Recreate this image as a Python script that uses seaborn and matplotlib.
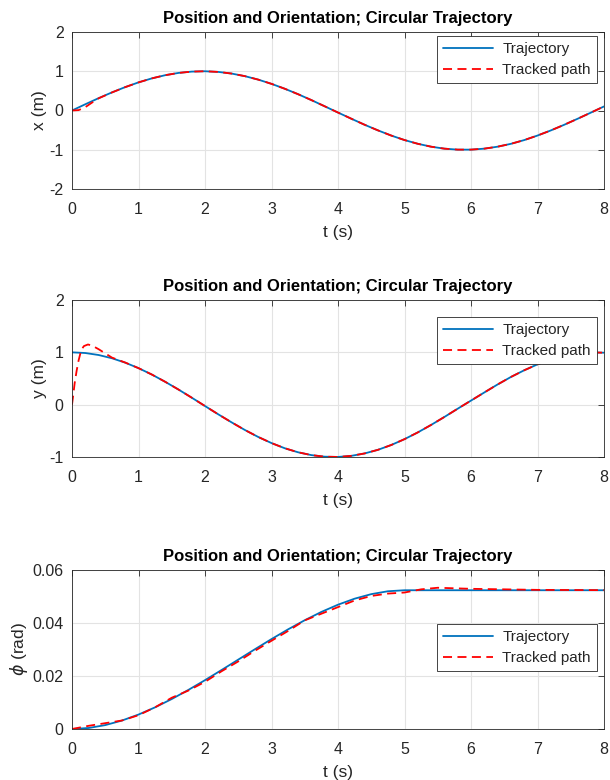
import matplotlib
matplotlib.use("Agg")
import matplotlib.pyplot as plt
import seaborn as sns
import pandas as pd
from matplotlib.ticker import FuncFormatter

# ---------------- data ----------------
t_ref = [0.0, 0.2, 0.4, 0.6, 0.8, 1.0, 1.2, 1.4, 1.6, 1.8, 2.0, 2.2, 2.4, 2.6, 2.8,
         3.0, 3.2, 3.4, 3.6, 3.8, 4.0, 4.2, 4.4, 4.6, 4.8, 5.0, 5.2, 5.4, 5.6, 5.8,
         6.0, 6.2, 6.4, 6.6, 6.8, 7.0, 7.2, 7.4, 7.6, 7.8, 8.0]
x_ref = [0.000, 0.159, 0.314, 0.461, 0.596, 0.716, 0.818, 0.899, 0.957, 0.991, 1.000,
         0.983, 0.941, 0.875, 0.787, 0.679, 0.554, 0.415, 0.265, 0.107, -0.052,
         -0.209, -0.363, -0.506, -0.638, -0.753, -0.848, -0.922, -0.972, -0.997,
         -0.997, -0.972, -0.922, -0.849, -0.754, -0.638, -0.508, -0.365, -0.213,
         -0.056, 0.103]
y_ref = [1.000, 0.987, 0.949, 0.887, 0.803, 0.698, 0.576, 0.438, 0.290, 0.134, -0.026,
         -0.185, -0.338, -0.484, -0.617, -0.734, -0.833, -0.910, -0.964, -0.994, -0.999,
         -0.978, -0.932, -0.863, -0.771, -0.659, -0.530, -0.387, -0.235, -0.077, 0.078,
         0.233, 0.386, 0.529, 0.657, 0.770, 0.862, 0.931, 0.978, 0.999, 0.993]

t_trk_x = [0.0, 0.1, 0.2, 0.3, 0.4, 0.6, 0.8, 1.0, 1.2, 1.4, 1.6, 1.8, 2.0, 2.2, 2.4, 2.6, 2.8,
           3.0, 3.2, 3.4, 3.6, 3.8, 4.0, 4.2, 4.4, 4.6, 4.8, 5.0, 5.2, 5.4, 5.6, 5.8,
           6.0, 6.2, 6.4, 6.6, 6.8, 7.0, 7.2, 7.4, 7.6, 7.8, 8.0]
x_trk = [0.000, 0.010, 0.085, 0.200, 0.310, 0.459, 0.595, 0.716, 0.818, 0.899, 0.957, 0.991,
         1.000, 0.983, 0.941, 0.875, 0.787, 0.679, 0.554, 0.415, 0.265, 0.107, -0.052,
         -0.209, -0.363, -0.506, -0.638, -0.753, -0.848, -0.922, -0.972, -0.997,
         -0.997, -0.972, -0.922, -0.849, -0.754, -0.638, -0.508, -0.365, -0.213,
         -0.056, 0.103]

t_trk_y = [0.0, 0.02, 0.04, 0.07, 0.10, 0.14, 0.18, 0.24, 0.30, 0.40, 0.50, 0.60, 0.8, 1.0,
           1.2, 1.4, 1.6, 1.8, 2.0, 2.2, 2.4, 2.6, 2.8, 3.0, 3.2, 3.4, 3.6, 3.8, 4.0, 4.2,
           4.4, 4.6, 4.8, 5.0, 5.2, 5.4, 5.6, 5.8, 6.0, 6.2, 6.4, 6.6, 6.8, 7.0, 7.2, 7.4,
           7.6, 7.8, 8.0]
y_trk = [0.000, 0.200, 0.410, 0.650, 0.850, 1.050, 1.120, 1.150, 1.130, 1.060, 0.980, 0.900,
         0.805, 0.698, 0.576, 0.438, 0.290, 0.134, -0.026, -0.185, -0.338, -0.484, -0.617,
         -0.734, -0.833, -0.910, -0.964, -0.994, -0.999, -0.978, -0.932, -0.863, -0.771,
         -0.659, -0.530, -0.387, -0.235, -0.077, 0.078, 0.233, 0.386, 0.529, 0.657, 0.770,
         0.862, 0.931, 0.978, 0.999, 0.993]

t_phi = [0.0, 0.25, 0.5, 0.75, 1.0, 1.25, 1.5, 1.75, 2.0, 2.25, 2.5, 2.75, 3.0, 3.25, 3.5,
         3.75, 4.0, 4.25, 4.5, 4.75, 5.0, 5.5, 6.0, 6.5, 7.0, 7.5, 8.0]
phi_ref = [0.0, 0.00038, 0.00147, 0.00318, 0.00545, 0.00818, 0.01131, 0.01475, 0.01843,
           0.02227, 0.02618, 0.03009, 0.03393, 0.03761, 0.04105, 0.04418, 0.04691, 0.04918,
           0.05089, 0.05198, 0.05236, 0.05236, 0.05236, 0.05236, 0.05236, 0.05236, 0.05236]

t_phi_trk = [0.0, 0.25, 0.5, 0.75, 1.0, 1.25, 1.5, 1.75, 2.0, 2.25, 2.5, 2.75, 3.0, 3.25,
             3.5, 3.75, 4.0, 4.25, 4.5, 4.75, 5.0, 5.25, 5.5, 5.75, 6.0, 6.5, 7.0, 8.0]
phi_trk = [0.0, 0.0012, 0.0022, 0.0032, 0.0052, 0.0082, 0.0118, 0.0145, 0.0178, 0.0218,
           0.0255, 0.0295, 0.0333, 0.0370, 0.0410, 0.0435, 0.0460, 0.0485, 0.0502, 0.0511,
           0.0515, 0.0527, 0.0533, 0.0531, 0.0529, 0.0527, 0.0525, 0.0524]

title = "Position and Orientation; Circular Trajectory"
labels = ["Trajectory", "Tracked path"]

# ---------------- style ----------------
sns.set_theme(style="white")
plt.rcParams["font.family"] = ["Liberation Sans", "DejaVu Sans"]
plt.rcParams["axes.unicode_minus"] = False
plt.rcParams["mathtext.fontset"] = "dejavusans"

BLUE = "#0072BD"
RED = "#FF0000"
AX_COL = "#262626"

fig = plt.figure(figsize=(6.1, 7.8), dpi=100)
left, width = 72 / 610, 532 / 610
boxes = [(32, 189), (300, 457), (570, 729)]
axes = [fig.add_axes([left, 1 - b / 780, width, (b - t) / 780]) for t, b in boxes]

panels = [
    (t_ref, x_ref, t_trk_x, x_trk, "x (m)", (-2, 2), [-2, -1, 0, 1, 2], (0.987, 0.975)),
    (t_ref, y_ref, t_trk_y, y_trk, "y (m)", (-1, 2), [-1, 0, 1, 2], (0.987, 0.892)),
    (t_phi, phi_ref, t_phi_trk, phi_trk, r"$\phi$ (rad)", (0, 0.06), [0, 0.02, 0.04, 0.06], (0.987, 0.66)),
]

for ax, (tr, vr, tt, vt, ylab, ylim, yt, lpos) in zip(axes, panels):
    d1 = pd.DataFrame({"t": tr, "v": vr})
    d2 = pd.DataFrame({"t": tt, "v": vt})
    sns.lineplot(data=d1, x="t", y="v", ax=ax, color=BLUE, lw=1.3, label=labels[0])
    sns.lineplot(data=d2, x="t", y="v", ax=ax, color=RED, lw=1.3, label=labels[1])
    ax.lines[1].set_linestyle((0, (5, 3)))
    ax.set_xlim(0, 8)
    ax.set_ylim(*ylim)
    ax.set_xticks(range(0, 9))
    ax.set_yticks(yt)
    ax.yaxis.set_major_formatter(FuncFormatter(lambda v, p: "%g" % v))
    ax.grid(True, color="#e3e3e3", lw=0.8)
    ax.set_axisbelow(True)
    for s in ax.spines.values():
        s.set_visible(True)
        s.set_color(AX_COL)
        s.set_linewidth(0.6)
    ax.tick_params(direction="in", top=True, right=True, length=4, width=0.6,
                   colors=AX_COL, labelsize=11.5, labelcolor="#262626")
    ax.tick_params(axis="x", pad=9)
    ax.tick_params(axis="y", pad=6)
    ax.set_xlabel("t (s)", fontsize=12.5, color="#262626", labelpad=6)
    ax.set_ylabel(ylab, fontsize=12.5, color="#262626", labelpad=2)
    ax.set_title(title, fontsize=12, fontweight="bold", color="black", pad=6.5)
    leg = ax.legend(loc="upper right", bbox_to_anchor=lpos, frameon=True, fancybox=False,
                    framealpha=1, edgecolor=AX_COL, fontsize=11, handlelength=3.3,
                    borderpad=0.4, labelspacing=0.45, handletextpad=0.6, borderaxespad=0)
    leg.get_frame().set_linewidth(0.6)

fig.savefig("out.png", dpi=100)
